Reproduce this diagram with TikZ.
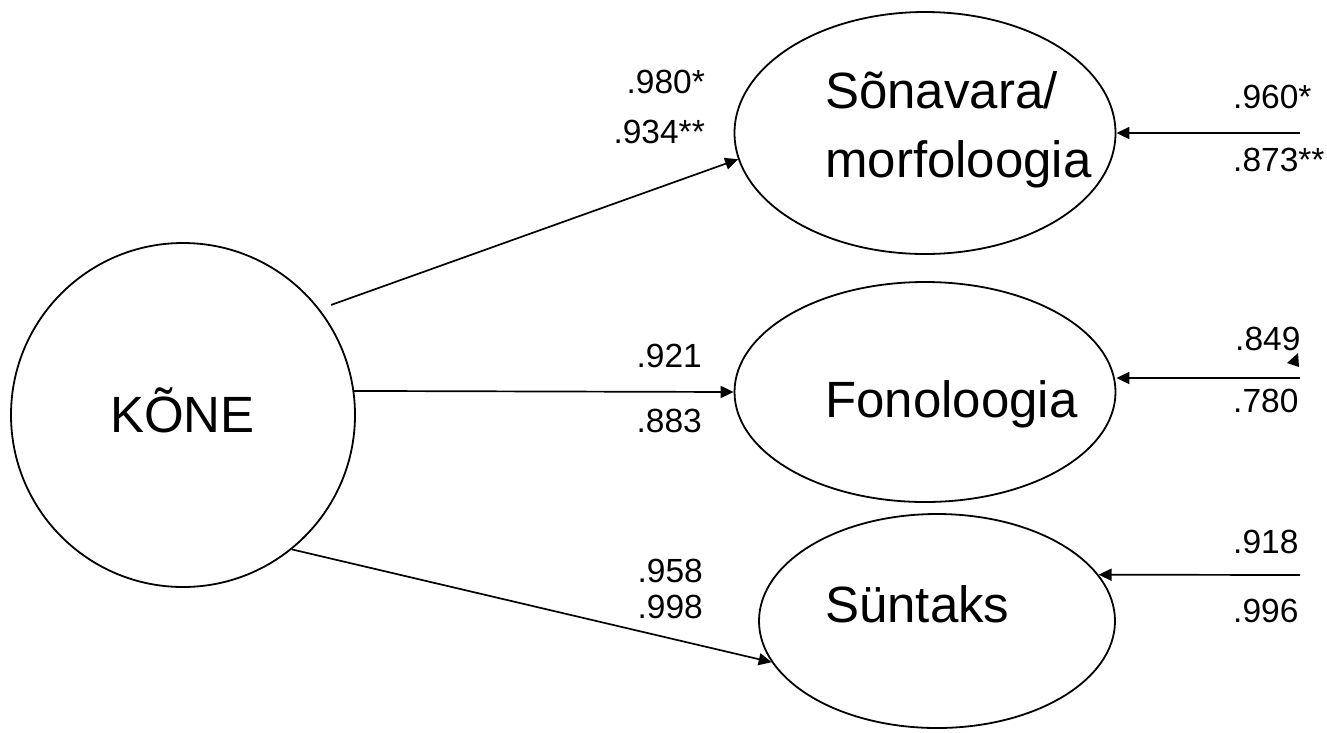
\documentclass[tikz,border=0pt]{standalone}
\usepackage{fontspec}
\setmainfont{Liberation Sans}
\usetikzlibrary{arrows.meta,shapes.geometric}
\begin{document}
\begin{tikzpicture}[x=1pt,y=-1pt,
  shapeline/.style={draw=black,line width=1.8pt},
  latent/.style={shapeline,ellipse,inner sep=0pt},
  bigtext/.style={inner sep=0pt,anchor=base west,font=\fontsize{51}{61}\selectfont},
  coef/.style={inner sep=0pt,font=\fontsize{33.5}{40}\selectfont},
  coefL/.style={coef,anchor=base east},
  coefR/.style={coef,anchor=base west},
  arr/.style={line width=1.7pt,-{Triangle[length=13pt,width=12pt]}}]
\useasboundingbox (0,0) rectangle (1327,732);
% latent variables
\node[latent,circle,minimum size=344pt] (kone) at (183,415) {};
\node[latent,minimum width=381pt,minimum height=242pt] (sona) at (925,133) {};
\node[latent,minimum width=381pt,minimum height=220pt] (fono) at (925,392) {};
\node[latent,minimum width=356pt,minimum height=214pt] (sunt) at (937,621) {};
% texts
\node[bigtext] (tkone) at (110,432) {KÕNE};
\node[bigtext] (tsonaA) at (825,108) {Sõnavara/};
\node[bigtext] (tsonaB) at (825,177) {morfoloogia};
\node[bigtext] (tfono) at (825,417) {Fonoloogia};
\node[bigtext] (tsunt) at (825,622) {Süntaks};
% free ends
\coordinate (r1) at (1300,133);
\coordinate (r2) at (1300,378);
\coordinate (r3) at (1300,575);
% connectors
\draw[arr] ([shift={(10,-6)}]kone.37) -- (sona.188);
\draw[arr] (kone.8) -- (fono.west);
\draw[arr] (kone.-51) -- (sunt.194);
\draw[arr] (r1) -- (sona.east);
\draw[arr] (r2) -- (r2 -| fono.east);
\draw[arr] (r3) -- (sunt.16);
% stray arrowhead
\fill (1287,363) -- (1298,353) -- (1299,367) -- cycle;
% coefficients
\node[coefL] (c1) at (705,93) {.980*};
\node[coefL] (c2) at (705,143) {.934**};
\node[coefL] (c3) at (702,367) {.921};
\node[coefL] (c4) at (702,432) {.883};
\node[coefL] (c5) at (703,582) {.958};
\node[coefL] (c6) at (703,618) {.998};
\node[coefR] (c7) at (1233,108) {.960*};
\node[coefR] (c8) at (1233,171) {.873**};
\node[coefR] (c9) at (1235,350) {.849};
\node[coefR] (c10) at (1233,412) {.780};
\node[coefR] (c11) at (1233,553) {.918};
\node[coefR] (c12) at (1233,622) {.996};
\end{tikzpicture}
\end{document}
